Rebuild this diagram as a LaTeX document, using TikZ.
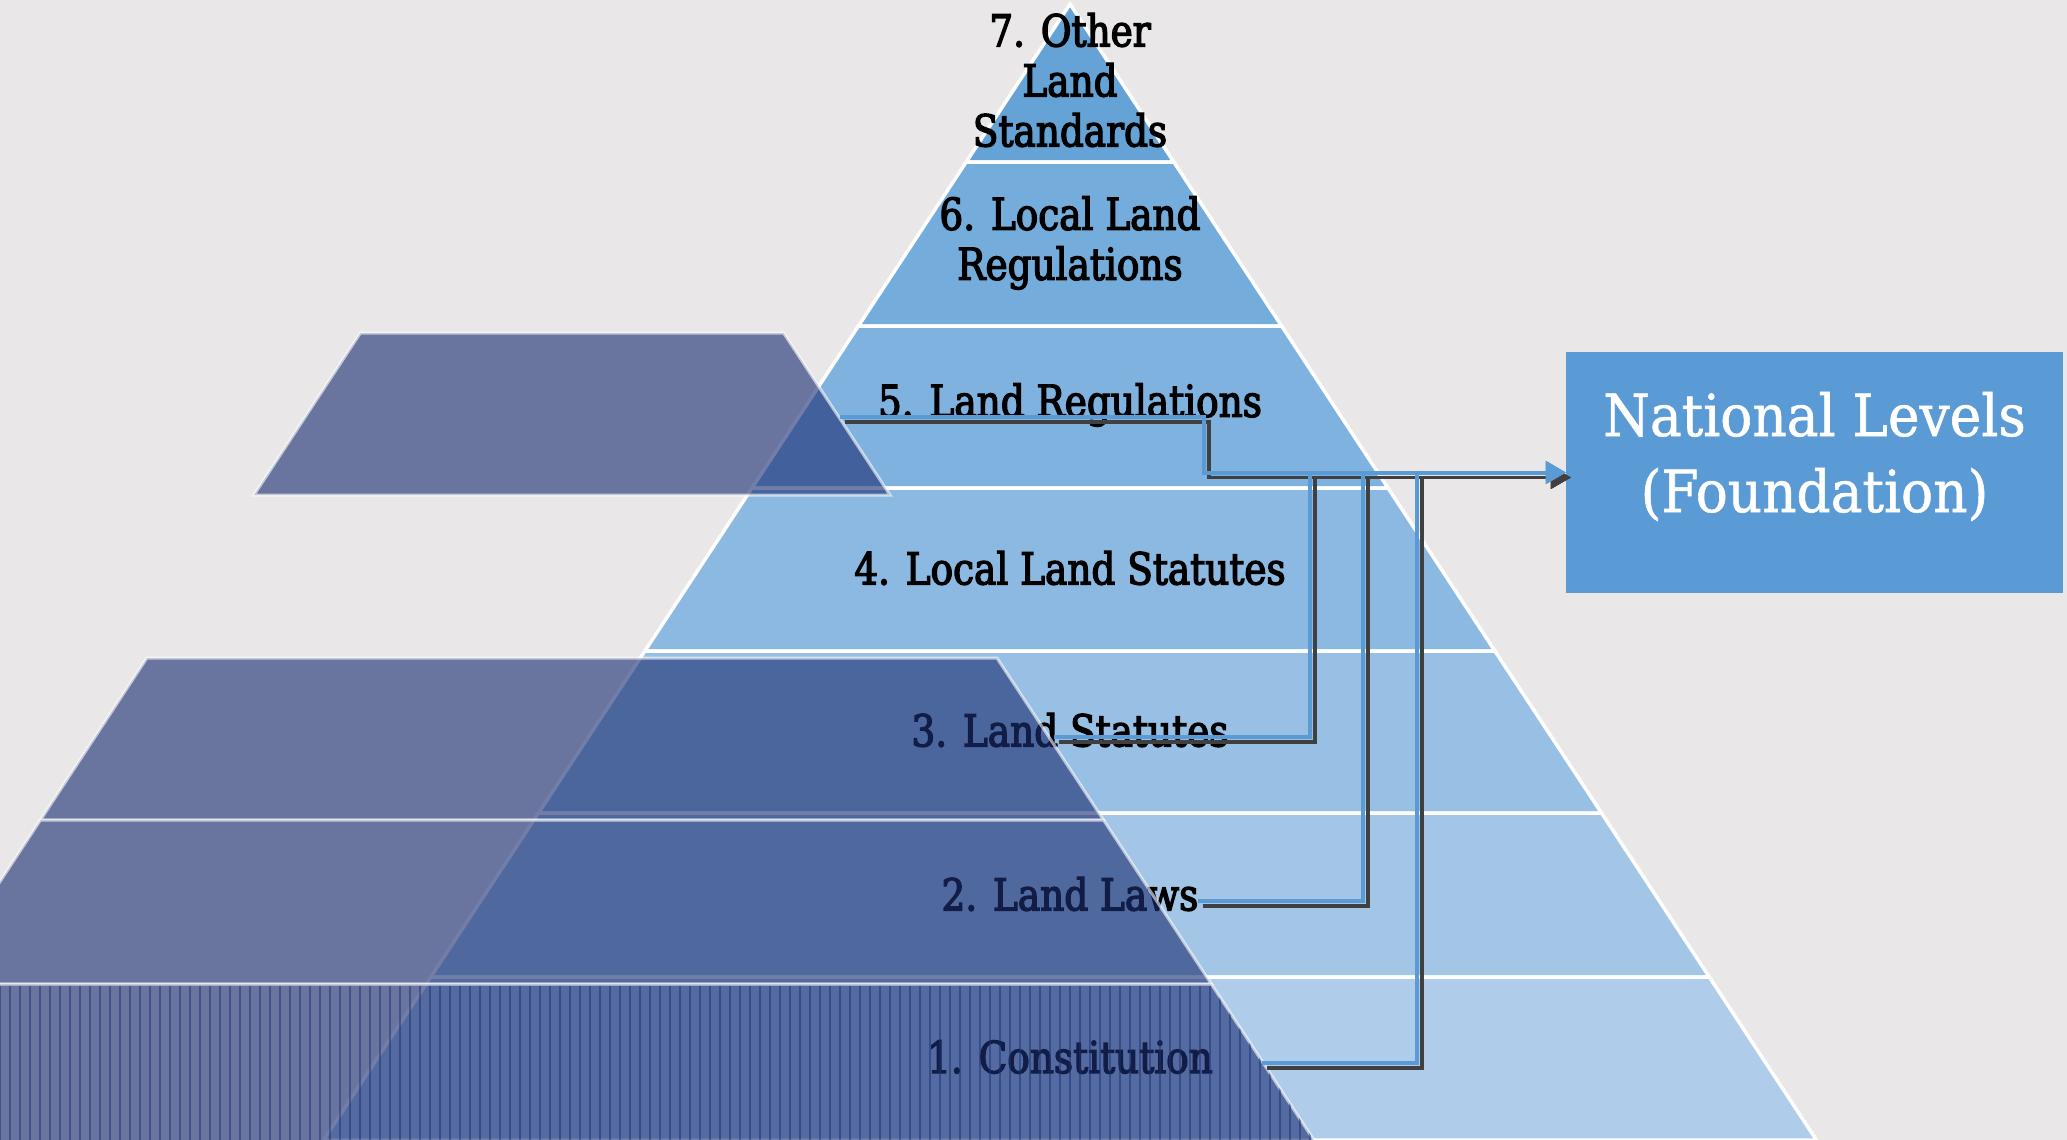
\documentclass[tikz,border=0pt]{standalone}
\usepackage{fontspec}
\setmainfont{DejaVu Serif}
\newfontfamily\lblfont[FakeStretch=0.85,FakeBold=3]{DejaVu Serif}
\newfontfamily\boxfont[FakeStretch=0.92,FakeBold=1]{DejaVu Serif}
\usetikzlibrary{arrows.meta,calc}
\definecolor{bgc}{RGB}{233,231,232}
\definecolor{tsev}{RGB}{101,163,215}
\definecolor{tsix}{RGB}{116,172,219}
\definecolor{tfiv}{RGB}{128,178,224}
\definecolor{tfou}{RGB}{140,185,226}
\definecolor{tthr}{RGB}{152,191,228}
\definecolor{ttwo}{RGB}{163,198,231}
\definecolor{tone}{RGB}{175,205,234}
\definecolor{navyov}{RGB}{28,48,115}
\definecolor{linkblue}{RGB}{91,155,213}
\definecolor{boxblue}{RGB}{91,155,213}
\tikzset{
  band/.style={draw=white, line width=3.5pt, line join=miter},
  overlay/.style={fill=navyov, fill opacity=0.62, draw=white, draw opacity=0.6, line width=3pt},
  lbl/.style={font=\lblfont\fontsize{44}{50}\selectfont, align=center, text=black, inner sep=0pt},
  conn/.style={draw=linkblue, line width=4pt, line join=miter, -{Triangle[length=20pt,width=22pt]}},
  connshadow/.style={draw=black!75, line width=3.5pt, line join=miter, -{Triangle[length=20pt,width=22pt]}, transform canvas={shift={(5,5)}}},
  boxstyle/.style={fill=boxblue, draw=none, minimum width=497pt, minimum height=241pt, inner sep=0pt},
  boxtext/.style={font=\boxfont\fontsize{58}{76}\selectfont, align=center, text=white, inner sep=0pt}
}
\begin{document}
\begin{tikzpicture}[x=1pt,y=-1pt]
\useasboundingbox (0,0) rectangle (2067,1140);
\clip (0,0) rectangle (2067,1140);
\fill[bgc] (0,0) rectangle (2067,1140);
% pyramid bands
\filldraw[band, fill=tsev] (1070,4) -- (1173.8,162) -- (966.2,162) -- cycle;
\filldraw[band, fill=tsix] (966.2,162) -- (1173.8,162) -- (1281.6,326) -- (858.4,326) -- cycle;
\filldraw[band, fill=tfiv] (858.4,326) -- (1281.6,326) -- (1388.0,488) -- (752.0,488) -- cycle;
\filldraw[band, fill=tfou] (752.0,488) -- (1388.0,488) -- (1494.9,651) -- (644.9,651) -- cycle;
\filldraw[band, fill=tthr] (644.9,651) -- (1494.9,651) -- (1601.5,813) -- (538.5,813) -- cycle;
\filldraw[band, fill=ttwo] (538.5,813) -- (1601.5,813) -- (1709.3,977) -- (430.7,977) -- cycle;
\filldraw[band, fill=tone] (430.7,977) -- (1709.3,977) -- (1816.4,1140) -- (323.6,1140) -- cycle;
% labels
\node[lbl] (t7) at (1070,80) {7. Other\\Land\\Standards};
\node[lbl] (t6) at (1070,243) {6. Local Land\\Regulations};
\node[lbl] (t5) at (1070,405) {5. Land Regulations};
\node[lbl] (t4) at (1070,568) {4. Local Land Statutes};
\node[lbl] (t3) at (1070,730) {3. Land Statutes};
\node[lbl] (t2) at (1070,894) {2. Land Laws};
\node[lbl] (t1) at (1070,1057) {1. Constitution};
% overlays
\path[overlay] (360.4,333) -- (783.6,333) -- (890,495) -- (254,495) -- cycle;
\path[overlay] (146.9,658) -- (996.9,658) -- (1103.5,820) -- (40.5,820) -- cycle;
\path[overlay] (40.5,820) -- (1103.5,820) -- (1211.3,984) -- (-67.3,984) -- cycle;
\path[overlay] (-67.3,984) -- (1211.3,984) -- (1318.4,1147) -- (-174.4,1147) -- cycle;
\begin{scope}
\clip (-67.3,986) -- (1211.3,986) -- (1318.4,1147) -- (-174.4,1147) -- cycle;
\draw[navyov, draw opacity=0.5, line width=1.3pt, step=10] (-200,980) grid (1400,1150);
\end{scope}
% box
\node[boxstyle] (box) at (1814.5,472.5) {};
\node[boxtext] (boxt) at ($(box.center)+(0,-16)$) {National Levels\\(Foundation)};
% connectors
\coordinate (s5) at (840,417);
\coordinate (s3) at (1054,737);
\coordinate (s2) at (1198,901);
\coordinate (s1) at (1262,1063);
\coordinate (k5) at (1204,0);
\coordinate (k3) at (1310,0);
\coordinate (k2) at (1363,0);
\coordinate (k1) at (1417,0);
\draw[connshadow] (s5) -| (k5 |- box.west) -- (box.west);
\draw[connshadow] (s3) -| (k3 |- box.west) -- (box.west);
\draw[connshadow] (s2) -| (k2 |- box.west) -- (box.west);
\draw[connshadow] (s1) -| (k1 |- box.west) -- (box.west);
\draw[conn] (s5) -| (k5 |- box.west) -- (box.west);
\draw[conn] (s3) -| (k3 |- box.west) -- (box.west);
\draw[conn] (s2) -| (k2 |- box.west) -- (box.west);
\draw[conn] (s1) -| (k1 |- box.west) -- (box.west);
\end{tikzpicture}
\end{document}
